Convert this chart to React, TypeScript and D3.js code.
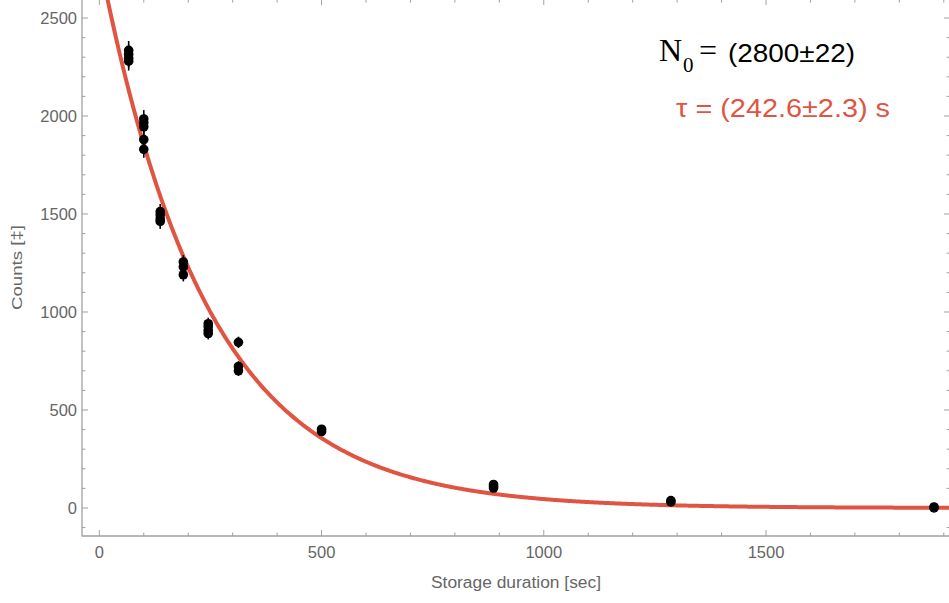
import React from "react";
import * as d3 from "d3";

const durations = [
  66, 66, 66, 66,
  100, 100, 100, 100, 100,
  137, 137, 137, 137,
  189, 189, 189,
  245, 245, 245, 245,
  313, 313, 313,
  500, 500,
  887, 887, 887,
  1286, 1286,
  1878, 1878,
];
const counts = [
  2335, 2315, 2295, 2280,
  1985, 1965, 1945, 1880, 1830,
  1512, 1495, 1475, 1462,
  1255, 1230, 1190,
  940, 925, 905, 890,
  845, 722, 700,
  402, 390,
  120, 110, 102,
  38, 31,
  5, 0,
];
const errors = [
  48, 48, 48, 48,
  45, 44, 44, 43, 43,
  39, 39, 38, 38,
  35, 35, 34,
  31, 30, 30, 30,
  29, 27, 26,
  20, 20,
  11, 10, 10,
  6, 6,
  2, 1,
];

// Fit parameters
const fitN0 = 2800;
const fitTau = 242.6;

const xMajorTicks = [0, 500, 1000, 1500];
const yMajorTicks = [0, 500, 1000, 1500, 2000, 2500];

const W = 949;
const H = 603;
const left = 82;
const right = 950;
const top = -1;
const bottom = 536;

const axisColor = "#a0a0a0";
const labelColor = "#666666";
const fitColor = "#e05442";

export default function App() {
  const x = d3.scaleLinear().domain([-39, 1914]).range([left, right]);
  const y = d3.scaleLinear().domain([-143, 2597]).range([bottom, top]);

  const xMinor = d3.range(0, 1914, 100).filter((v) => v % 500 !== 0);
  const yMinor = d3.range(-100, 2597, 100).filter((v) => v % 500 !== 0);

  const curveTs = d3.range(-39, 1915, 2);
  const line = d3
    .line<number>()
    .x((t) => x(t))
    .y((t) => y(fitN0 * Math.exp(-t / fitTau)))
    .curve(d3.curveLinear);

  const font = "'Liberation Sans', Arial, sans-serif";
  const serif = "'Liberation Serif', 'Times New Roman', serif";

  return (
    <svg
      width={W}
      height={H}
      viewBox={`0 0 ${W} ${H}`}
      style={{ position: "absolute", left: 0, top: 0, background: "#fff" }}
    >
      <defs>
        <clipPath id="plotclip">
          <rect x={left} y={top} width={right - left} height={bottom - top} />
        </clipPath>
      </defs>

      {/* frame */}
      <g stroke={axisColor} strokeWidth={1.3} fill="none">
        <line x1={left} x2={left} y1={top} y2={bottom + 0.6} />
        <line x1={left} x2={right} y1={bottom} y2={bottom} />
        <line x1={right} x2={right} y1={top} y2={bottom} />
        <line x1={left} x2={right} y1={top} y2={top} />
      </g>

      {/* ticks */}
      <g stroke={axisColor} strokeWidth={1}>
        {xMajorTicks.map((v) => (
          <g key={"xm" + v}>
            <line x1={x(v)} x2={x(v)} y1={bottom} y2={bottom - 6} />
            <line x1={x(v)} x2={x(v)} y1={top} y2={top + 6} />
          </g>
        ))}
        {xMinor.map((v) => (
          <g key={"xn" + v}>
            <line x1={x(v)} x2={x(v)} y1={bottom} y2={bottom - 3.5} />
            <line x1={x(v)} x2={x(v)} y1={top} y2={top + 3.5} />
          </g>
        ))}
        {yMajorTicks.map((v) => (
          <g key={"ym" + v}>
            <line x1={left} x2={left + 6} y1={y(v)} y2={y(v)} />
            <line x1={right} x2={right - 6} y1={y(v)} y2={y(v)} />
          </g>
        ))}
        {yMinor.map((v) => (
          <g key={"yn" + v}>
            <line x1={left} x2={left + 3.5} y1={y(v)} y2={y(v)} />
            <line x1={right} x2={right - 3.5} y1={y(v)} y2={y(v)} />
          </g>
        ))}
      </g>

      {/* tick labels */}
      <g fill={labelColor} fontFamily={font} fontSize={16.5}>
        {xMajorTicks.map((v) => (
          <text key={"xl" + v} x={x(v)} y={558} textAnchor="middle">
            {v}
          </text>
        ))}
        {yMajorTicks.map((v) => (
          <text
            key={"yl" + v}
            x={77}
            y={y(v)}
            textAnchor="end"
            dominantBaseline="central"
          >
            {v}
          </text>
        ))}
      </g>

      {/* axis titles */}
      <text
        x={431}
        y={588}
        fill={labelColor}
        fontFamily={font}
        fontSize={16}
        textLength={170}
        lengthAdjust="spacingAndGlyphs"
      >
        Storage duration [sec]
      </text>
      <text
        transform={`translate(22,310) rotate(-90)`}
        fill={labelColor}
        fontFamily={font}
        fontSize={15}
        textLength={85}
        lengthAdjust="spacingAndGlyphs"
      >
        Counts [‡]
      </text>

      <g clipPath="url(#plotclip)">
        {/* fit curve */}
        <path
          d={line(curveTs) || ""}
          fill="none"
          stroke={fitColor}
          strokeWidth={4}
          strokeLinejoin="round"
        />

        {/* data with error bars */}
        <g fill="#000" stroke="#000">
          {durations.map((t, i) => (
            <g key={"p" + i}>
              <line
                x1={x(t)}
                x2={x(t)}
                y1={y(counts[i] - errors[i])}
                y2={y(counts[i] + errors[i])}
                strokeWidth={1.6}
              />
              <circle cx={x(t)} cy={y(counts[i])} r={4.8} stroke="none" />
            </g>
          ))}
        </g>
      </g>

      {/* annotations */}
      <g>
        <text x={659} y={61} fontFamily={serif} fontSize={32} fill="#000">
          N
        </text>
        <text x={683} y={72} fontFamily={serif} fontSize={21} fill="#000">
          0
        </text>
        <text x={699} y={61} fontFamily={serif} fontSize={32} fill="#000">
          =
        </text>
        <text
          x={728}
          y={62}
          fontFamily={font}
          fontSize={25}
          fill="#000"
          textLength={127}
          lengthAdjust="spacingAndGlyphs"
        >
          (2800±22)
        </text>
        <text
          x={676}
          y={117}
          fontFamily={font}
          fontSize={26}
          fill={fitColor}
          textLength={214}
          lengthAdjust="spacingAndGlyphs"
        >
          τ = (242.6±2.3) s
        </text>
      </g>
    </svg>
  );
}
